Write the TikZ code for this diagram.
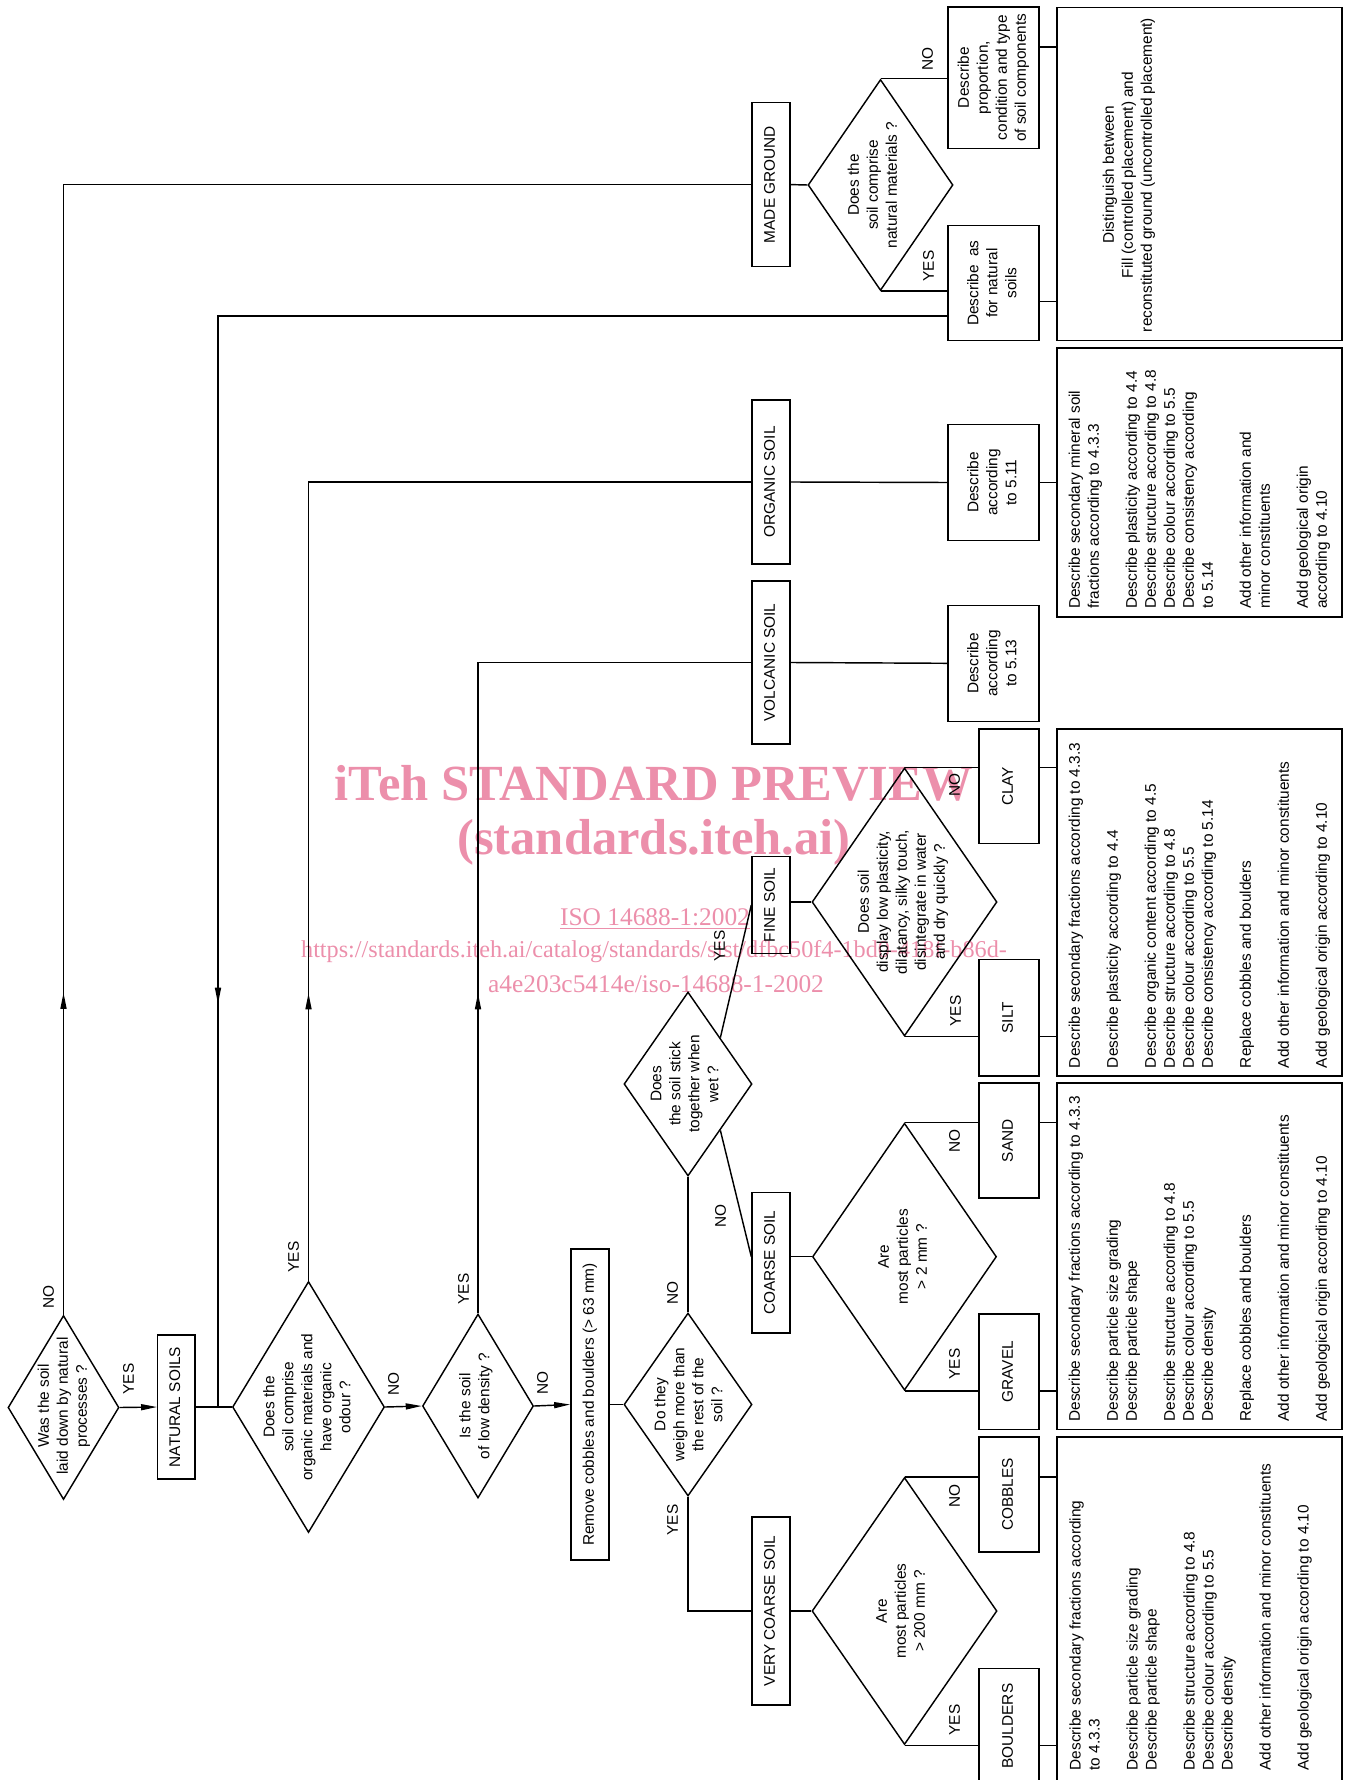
\documentclass[tikz,border=0pt]{standalone}
\usepackage{fontspec}
\setmainfont{Liberation Sans}
\newfontfamily\wmfont{Liberation Serif}
\usepackage{graphicx}
\usetikzlibrary{shapes.geometric,arrows.meta,decorations.markings,calc}
\newcommand\fs{\fontsize{7.7pt}{9.5pt}\selectfont}
\newcommand\rotc[1]{\rotatebox{90}{\begin{tabular}{@{}c@{}}#1\end{tabular}}}
\newcommand\rotl[1]{\rotatebox{90}{\begin{tabular}{@{}l@{}}#1\end{tabular}}}
\definecolor{wmpink}{RGB}{236,143,171}
\begin{document}
\begin{tikzpicture}[x=0.5pt,y=-0.5pt, line width=0.72pt,
  every node/.style={font=\fs, inner sep=0pt},
  sz/.style 2 args={minimum width=#1*0.5pt, minimum height=#2*0.5pt},
  bx/.style={draw, rectangle},
  dia/.style={draw, diamond},
  ar/.style={-{Triangle[length=8pt,width=3pt]}},
  midar/.style={postaction={decorate,decoration={markings,mark=at position #1 with {\arrow{Triangle[length=8pt,width=3pt]}}}}},
  wm/.style={text=wmpink}
]
\useasboundingbox (0,0) rectangle (1351,1780);

% watermark
\node[wm, font={\wmfont\bfseries\fontsize{25.3pt}{30pt}\selectfont}] (wm1) at (654,783) {iTeh STANDARD PREVIEW};
\node[wm, font={\wmfont\bfseries\fontsize{25.3pt}{30pt}\selectfont}] (wm2) at (654,842) {(standards.iteh.ai)};
\node[wm, font={\wmfont\fontsize{12.7pt}{15pt}\selectfont}] (wm3) at (655,919) {\underline{ISO 14688-1:2002}};
\node[wm, font={\wmfont\fontsize{12.1pt}{15pt}\selectfont}] (wm4) at (654,952) {https://standards.iteh.ai/catalog/standards/sist/dfbc50f4-1bd0-418f-b86d-};
\node[wm, font={\wmfont\fontsize{12.7pt}{15pt}\selectfont}] (wm5) at (656,984) {a4e203c5414e/iso-14688-1-2002};

% first column of questions
\node[dia, sz={111}{184}] (d1) at (63.5,1407.5) {};
\node (d1t) at (64,1406) {\rotc{Was the soil\\laid down by natural\\processes ?}};
\node[bx, sz={37.3}{144}] (nat) at (176.4,1407) {\rotc{NATURAL SOILS}};
\node[dia, sz={152}{251}] (dorg) at (308.5,1407) {};
\node (dorgt) at (308.5,1407) {\rotc{Does the\\soil comprise\\organic materials and\\have organic\\odour ?}};
\node[dia, sz={111}{184}] (dlow) at (478,1406) {};
\node (dlowt) at (476,1406) {\rotc{Is the soil\\of low density ?}};
\node[bx, sz={38.3}{311}] (rem) at (590,1404.5) {\rotc{Remove cobbles and boulders (> 63 mm)}};
\node[dia, sz={128}{183}] (dw) at (688,1404.5) {};
\node (dwt) at (690,1404.5) {\rotc{Do they\\weigh more than\\the rest of the\\soil ?}};
\node[dia, sz={128}{184}] (ds) at (688,1084) {};
\node (dst) at (686,1084) {\rotc{Does\\the soil stick\\together when\\wet ?}};

% category boxes
\node[bx, sz={38}{164}] (mg) at (771,184.6) {\rotc{MADE GROUND}};
\node[bx, sz={38}{164}] (org) at (771,482) {\rotc{ORGANIC SOIL}};
\node[bx, sz={38}{163}] (vol) at (771,662.5) {\rotc{VOLCANIC SOIL}};
\node[bx, sz={38}{97}] (fine) at (771,905) {\rotc{FINE SOIL}};
\node[bx, sz={38}{140.5}] (coarse) at (771,1262.7) {\rotc{COARSE SOIL}};
\node[bx, sz={38}{188}] (vcs) at (771,1611) {\rotc{VERY COARSE SOIL}};

% second level questions
\node[dia, sz={145}{211}] (dm) at (880.5,185) {};
\node (dmt) at (874,185) {\rotc{Does the\\soil comprise\\natural materials ?}};
\node[dia, sz={185}{268}] (df) at (904.5,902) {};
\node (dft) at (903,902) {\rotc{Does soil\\display low plasticity,\\dilatancy, silky touch,\\disintegrate in water\\and dry quickly ?}};
\node[dia, sz={184}{267}] (dc) at (904.5,1256.7) {};
\node (dct) at (904,1256.7) {\rotc{Are\\most particles\\> 2 mm ?}};
\node[dia, sz={185}{267}] (dv) at (904.5,1611) {};
\node (dvt) at (902,1611) {\rotc{Are\\most particles\\> 200 mm ?}};

% describe boxes
\node[bx, sz={91}{141.5}] (prop) at (993.5,77.7) {\rotc{Describe\\proportion,\\condition and type\\of soil components}};
\node[bx, sz={91}{115}] (natd) at (993.5,283.2) {\rotc{Describe\ \ as\\for natural\\soils}};
\node[bx, sz={91}{115.6}] (d511) at (993.5,482.5) {\rotc{Describe\\according\\to 5.11}};
\node[bx, sz={91}{116}] (d513) at (993.5,663.3) {\rotc{Describe\\according\\to 5.13}};

% result boxes
\node[bx, sz={60}{114.7}] (clay) at (1009,786.3) {\rotc{CLAY}};
\node[bx, sz={60}{116.7}] (silt) at (1009,1017.7) {\rotc{SILT}};
\node[bx, sz={60}{115}] (sand) at (1009,1140.6) {\rotc{SAND}};
\node[bx, sz={60}{115.5}] (gravel) at (1009,1371.8) {\rotc{GRAVEL}};
\node[bx, sz={60}{115}] (cob) at (1009,1494.5) {\rotc{COBBLES}};
\node[bx, sz={60}{115}] (bou) at (1009,1726) {\rotc{BOULDERS}};

% list boxes
\node[bx, sz={285}{333}] (lmade) at (1199.5,174) {};
\node (lmadet) at (1129,175) {\rotc{Distinguish between\\Fill (controlled placement) and\\reconstituted ground (uncontrolled placement)}};
\node[bx, sz={285}{268.6}] (lorg) at (1199.5,482.5) {};
\node[anchor=south west] (lorgt) at ($(lorg.south west)+(9.6,-8)$) {\rotl{Describe secondary mineral soil\\fractions according to 4.3.3\\ \\Describe plasticity according to 4.4\\Describe structure according to 4.8\\Describe colour according to 5.5\\Describe consistency according\\to 5.14\\ \\Add other information and\\minor constituents\\ \\Add geological origin\\according to 4.10}};
\node[bx, sz={285}{347}] (lfine) at (1199.5,902.5) {};
\node[anchor=south west] (lfinet) at ($(lfine.south west)+(9.6,-8)$) {\rotl{Describe secondary fractions according to 4.3.3\\ \\Describe plasticity according to 4.4\\ \\Describe organic content according to 4.5\\Describe structure according to 4.8\\Describe colour according to 5.5\\Describe consistency according to 5.14\\ \\Replace cobbles and boulders\\ \\Add other information and minor constituents\\ \\Add geological origin according to 4.10}};
\node[bx, sz={285}{346.5}] (lcoarse) at (1199.5,1256.2) {};
\node[anchor=south west] (lcoarset) at ($(lcoarse.south west)+(9.6,-8)$) {\rotl{Describe secondary fractions according to 4.3.3\\ \\Describe particle size grading\\Describe particle shape\\ \\Describe structure according to 4.8\\Describe colour according to 5.5\\Describe density\\ \\Replace cobbles and boulders\\ \\Add other information and minor constituents\\ \\Add geological origin according to 4.10}};
\node[bx, sz={285}{352}] (lvc) at (1199.5,1613) {};
\node[anchor=south west] (lvct) at (1066.6,1771) {\rotl{Describe secondary fractions according\\to 4.3.3\\ \\Describe particle size grading\\Describe particle shape\\ \\Describe structure according to 4.8\\Describe colour according to 5.5\\Describe density\\ \\Add other information and minor constituents\\ \\Add geological origin according to 4.10}};

% connectors
\coordinate (j1) at (218,1407);
\draw[ar] (d1.east) -- (nat.west);
\draw (nat.east) -- (dorg.west);
\draw[midar=708.5pt] (natd.west |- 0,316) -| (j1);
\draw[midar=161pt] (d1.north) |- (mg.west);
\draw[midar=143.75pt] (dorg.north) |- (org.west);
\draw[midar=160pt] (dlow.north) |- (vol.west);
\draw[ar] (dorg.east) -- (dlow.west);
\draw[ar] (dlow.east) -- (rem.west);
\draw (rem.east) -- (dw.west);
\draw (dw.north) -- (ds.south);
\draw (dw.south) |- (vcs.west);
\draw ($(ds.north)!0.5!(ds.east)$) -- (fine.west);
\draw ($(ds.south)!0.5!(ds.east)$) -- (coarse.west |- dc.west);
\draw (fine.east |- df.west) -- (df.west);
\draw (coarse.east |- dc.west) -- (dc.west);
\draw (vcs.east) -- (dv.west);
\draw (df.north) -- (df.north -| clay.west);
\draw (df.south) -- (df.south -| silt.west);
\draw (dc.north) -- (dc.north -| sand.west);
\draw (dc.south) -- (dc.south -| gravel.west);
\draw (dv.north) -- (dv.north -| cob.west);
\draw (dv.south) -- (dv.south -| bou.west);
\draw (clay.east |- df.north) -- (lfine.west |- df.north);
\draw (silt.east |- df.south) -- (lfine.west |- df.south);
\draw (sand.east |- dc.north) -- (lcoarse.west |- dc.north);
\draw (gravel.east |- dc.south) -- (lcoarse.west |- dc.south);
\draw (cob.east |- dv.north) -- (lvc.west |- dv.north);
\draw (bou.east |- dv.south) -- (lvc.west |- dv.south);
\draw (org.east) -- (d511.west);
\draw (d511.east) -- (lorg.west);
\draw (vol.east) -- (d513.west);
\draw (mg.east) -- (dm.west);
\draw (dm.north) -- (dm.north -| prop.west);
\draw (dm.south) -- (dm.south -| natd.west);
\draw (prop.east |- 0,47) -- (lmade.west |- 0,47);
\draw (natd.east |- 0,301.5) -- (lmade.west |- 0,301.5);

% YES / NO labels
\node (l1) at (50,1297) {\rotc{NO}};
\node (l2) at (130,1379) {\rotc{YES}};
\node (l3) at (295,1257) {\rotc{YES}};
\node (l4) at (395,1384) {\rotc{NO}};
\node (l5) at (465,1289) {\rotc{YES}};
\node (l6) at (544,1383) {\rotc{NO}};
\node (l7) at (674,1293) {\rotc{NO}};
\node (l8) at (674,1520) {\rotc{YES}};
\node (l9) at (722,1216) {\rotc{NO}};
\node (l10) at (721,946) {\rotc{YES}};
\node (l11) at (929,59) {\rotc{NO}};
\node (l12) at (930,266) {\rotc{YES}};
\node (l13) at (956,785) {\rotc{NO}};
\node (l14) at (957,1011) {\rotc{YES}};
\node (l15) at (956,1141) {\rotc{NO}};
\node (l16) at (956,1364) {\rotc{YES}};
\node (l17) at (956,1496) {\rotc{NO}};
\node (l18) at (956,1720) {\rotc{YES}};
\end{tikzpicture}
\end{document}
